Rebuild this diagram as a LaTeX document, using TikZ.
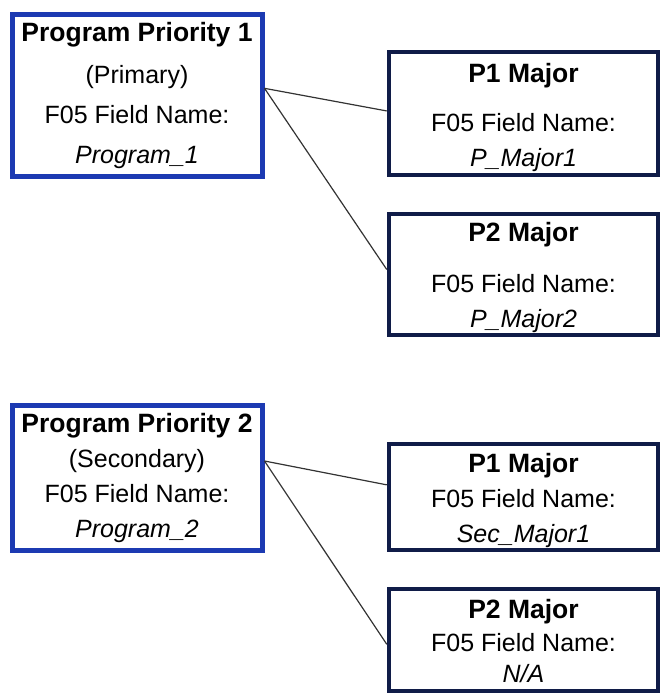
\documentclass[tikz,border=0pt]{standalone}
\usepackage{fontspec}
\setmainfont{Liberation Sans}
\usetikzlibrary{calc}
\definecolor{progblue}{RGB}{28,58,178}
\definecolor{majnavy}{RGB}{16,28,72}
\newcommand{\boxtitle}[1]{{\fontsize{26.5}{35}\selectfont\bfseries #1}}
\tikzset{%
  prog box/.style={
    draw=progblue,
    line width=5pt,
    align=center,
    minimum width=250pt,
    inner sep=0pt,
    font=\fontsize{25}{35}\selectfont
  },
  major box/.style={
    draw=majnavy,
    line width=4.5pt,
    align=center,
    minimum width=269pt,
    inner sep=0pt,
    font=\fontsize{25}{35}\selectfont
  },
  link/.style={
    draw=black!80,
    line width=1.2pt
  },
}

\begin{document}
\begin{tikzpicture}[x=1pt, y=-1pt]
\useasboundingbox (0,0) rectangle (662,694);

% primary program
\node [prog box, minimum height=162pt] (prog-1) at (137,95)
  {\boxtitle{Program Priority 1}\\[7pt] (Primary)\\[5pt] F05 Field Name:\\[5pt] \textit{Program\_1}};
\node [major box, minimum height=123pt] (major-1-1) at (523.5,113.5)
  {\rule{0pt}{28pt}\boxtitle{P1 Major}\\[14pt] F05 Field Name:\\ \textit{P\_Major1}};
\node [major box, minimum height=121pt] (major-1-2) at (523.5,274.5)
  {\rule{0pt}{26pt}\boxtitle{P2 Major}\\[16pt] F05 Field Name:\\ \textit{P\_Major2}};

% secondary program
\node [prog box, minimum height=145pt] (prog-2) at (137,477.5)
  {\boxtitle{Program Priority 2}\\ (Secondary)\\ F05 Field Name:\\ \textit{Program\_2}};
\node [major box, minimum height=106pt] (major-2-1) at (523.5,497)
  {\rule{0pt}{26pt}\boxtitle{P1 Major}\\ F05 Field Name:\\ \textit{Sec\_Major1}};
\node [major box, minimum height=102pt] (major-2-2) at (523.5,640)
  {\rule{0pt}{22pt}\boxtitle{P2 Major}\\[-2pt] F05 Field Name:\\[-4pt] \textit{N/A}};

\foreach \p/\a/\b/\c in {1/0.46/0.48/0.46, 2/0.39/0.39/0.54}{
  \coordinate (hub-\p) at ($(prog-\p.north east)!\a!(prog-\p.south east)$);
  \draw [link] (hub-\p) -- ($(major-\p-1.north west)!\b!(major-\p-1.south west)$);
  \draw [link] (hub-\p) -- ($(major-\p-2.north west)!\c!(major-\p-2.south west)$);
}

\end{tikzpicture}
\end{document}
